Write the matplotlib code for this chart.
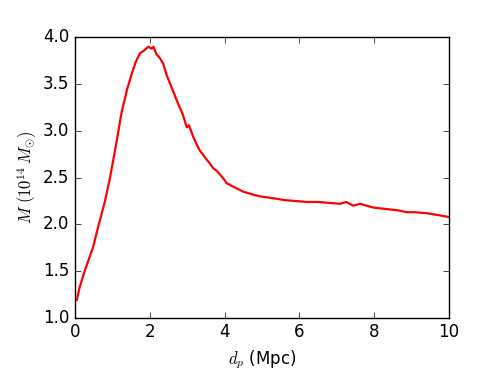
import numpy as np
import matplotlib
matplotlib.use('Agg')
import matplotlib.pyplot as plt

# projected distance (Mpc) and mass (1e14 Msun)
d_p = [0.0, 0.05, 0.13, 0.27, 0.49, 0.62, 0.80, 0.94, 1.10, 1.25, 1.40, 1.52,
       1.63, 1.74, 1.85, 1.96, 2.05, 2.10, 2.18, 2.27, 2.36, 2.45, 2.54, 2.65,
       2.76, 2.88, 2.99, 3.05, 3.16, 3.25, 3.34, 3.47, 3.61, 3.70, 3.80, 3.97,
       4.06, 4.25, 4.50, 4.75, 4.95, 5.30, 5.60, 5.90, 6.19, 6.50, 6.80, 7.09,
       7.25, 7.44, 7.62, 7.80, 7.98, 8.20, 8.42, 8.65, 8.87, 9.10, 9.40, 9.70,
       9.98, 10.0]
mass = [1.20, 1.19, 1.33, 1.51, 1.76, 1.97, 2.24, 2.50, 2.85, 3.20, 3.45, 3.61,
        3.74, 3.83, 3.86, 3.90, 3.88, 3.90, 3.82, 3.78, 3.72, 3.60, 3.51, 3.40,
        3.29, 3.18, 3.04, 3.06, 2.94, 2.86, 2.79, 2.72, 2.65, 2.60, 2.57, 2.49,
        2.44, 2.40, 2.35, 2.32, 2.30, 2.28, 2.26, 2.25, 2.24, 2.24, 2.23, 2.22,
        2.24, 2.20, 2.22, 2.20, 2.18, 2.17, 2.16, 2.15, 2.13, 2.13, 2.12, 2.10,
        2.08, 2.08]

plt.style.use('classic')
fig = plt.figure(figsize=(4.99, 3.74), dpi=100, facecolor='white')
ax = fig.add_subplot(111)
fig.subplots_adjust(left=0.15, bottom=0.15, right=0.9, top=0.9)

ax.plot(d_p, mass, 'r-', lw=1.6)
ax.set_xlim(0, 10)
ax.set_ylim(1.0, 4.0)
ax.set_xlabel(r'$d_p$ (Mpc)')
ax.set_ylabel(r'$M\ (10^{14}\, M_{\odot})$', labelpad=3)

fig.savefig('out.png', dpi=100, facecolor='white')
